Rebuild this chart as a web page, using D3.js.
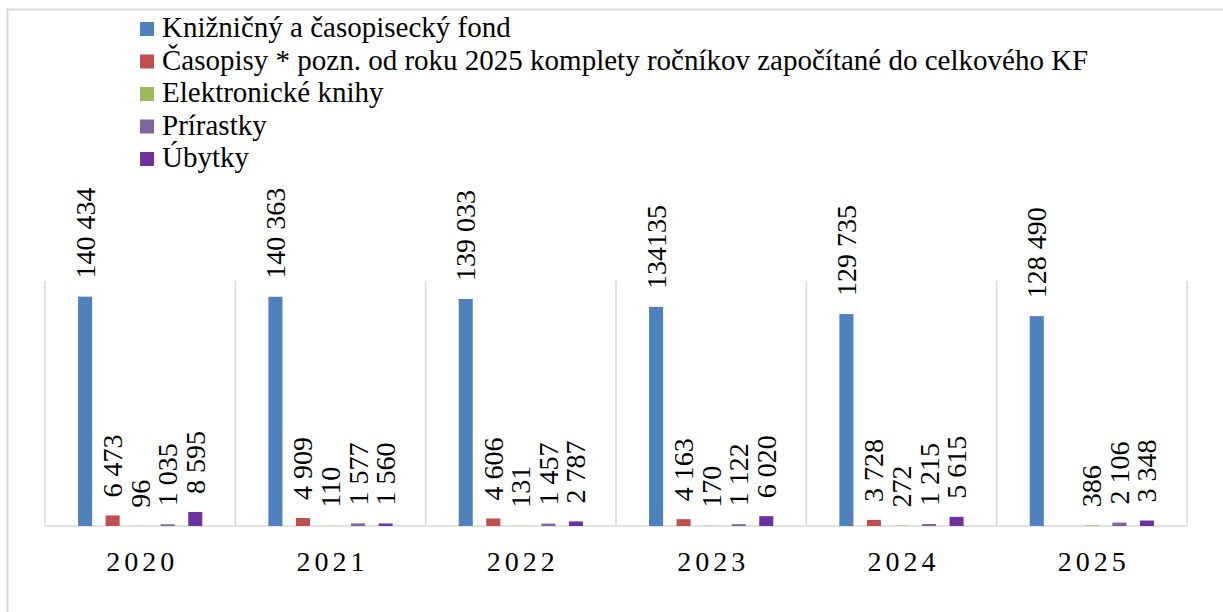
<!DOCTYPE html>
<html>
<head>
<meta charset="utf-8">
<script src="https://cdn.jsdelivr.net/npm/d3@7"></script>
<style>
	body { margin: 0; background: #fff; }
</style>
</head>
<body>
<div id="chart"></div>
<script>
const years = ['2020', '2021', '2022', '2023', '2024', '2025'];
const seriesNames = [
	'Knižničný a časopisecký fond',
	'Časopisy * pozn. od roku 2025 komplety ročníkov započítané do celkového KF',
	'Elektronické knihy',
	'Prírastky',
	'Úbytky'
];
const seriesColors = ['#4f81bd', '#c0504d', '#9bbb59', '#8064a2', '#7030a0'];
const fond = [140434, 140363, 139033, 134135, 129735, 128490];
const casopisy = [6473, 4909, 4606, 4163, 3728, null];
const ekniby = [96, 110, 131, 170, 272, 386];
const prirastky = [1035, 1577, 1457, 1122, 1215, 2106];
const ubytky = [8595, 1560, 2787, 6020, 5615, 3348];
// labels written differently in the source
const labelOverrides = {'0|2023': '134135'};

const width = 1223, height = 612;
const plot = {left: 45, right: 1187, top: 281, bottom: 526};
const fontSize = 28;
const fontFamily = '"Times New Roman", "Liberation Serif", Tinos, "DejaVu Serif", serif';

const allSeries = [fond, casopisy, ekniby, prirastky, ubytky];

const svg = d3.select('#chart')
	.append('svg')
	.attr('width', width)
	.attr('height', height)
	.attr('font-family', fontFamily);

svg.append('rect')
	.attr('width', width)
	.attr('height', height)
	.attr('fill', '#fff');

// chart frame
svg.append('rect')
	.attr('x', 7.5)
	.attr('y', 9.5)
	.attr('width', 1400)
	.attr('height', 800)
	.attr('fill', 'none')
	.attr('stroke', '#d9d9d9')
	.attr('stroke-width', 2);

const xScale = d3.scaleBand()
	.domain(years)
	.range([plot.left, plot.right]);

const xInner = d3.scaleBand()
	.domain(d3.range(seriesNames.length))
	.range([0, xScale.bandwidth()])
	.paddingInner(0.49)
	.paddingOuter(1.2);

const yScale = d3.scaleLinear()
	.domain([0, 150000])
	.range([plot.bottom, plot.top]);

// category separators
svg.append('g')
	.selectAll('line')
	.data(years.concat(['end']))
	.join('line')
	.attr('x1', (d, i) => i < years.length ? xScale(d) : plot.right)
	.attr('x2', (d, i) => i < years.length ? xScale(d) : plot.right)
	.attr('y1', plot.top)
	.attr('y2', plot.bottom)
	.attr('stroke', '#d9d9d9')
	.attr('stroke-width', 1.5);

svg.append('line')
	.attr('x1', plot.left)
	.attr('x2', plot.right)
	.attr('y1', plot.bottom)
	.attr('y2', plot.bottom)
	.attr('stroke', '#d9d9d9')
	.attr('stroke-width', 1.5);

const fmt = d3.formatLocale({thousands: ' ', grouping: [3], decimal: ',', currency: ['', '']}).format(',d');

const bars = [];
allSeries.forEach((values, s) => {
	values.forEach((v, i) => {
		if (v == null) return;
		bars.push({s, year: years[i], value: v});
	});
});

const groups = svg.append('g')
	.selectAll('.bar')
	.data(bars)
	.join('g')
	.attr('class', 'bar')
	.attr('transform', d => `translate(${xScale(d.year) + xInner(d.s)}, 0)`);

groups.append('rect')
	.attr('x', 0)
	.attr('y', d => yScale(d.value))
	.attr('width', xInner.bandwidth())
	.attr('height', d => plot.bottom - yScale(d.value))
	.attr('fill', d => seriesColors[d.s]);

groups.append('text')
	.attr('transform', d => `translate(${xInner.bandwidth() / 2 + 9.5}, ${yScale(d.value) - 18}) rotate(-90)`)
	.attr('font-size', fontSize)
	.text(d => labelOverrides[d.s + '|' + d.year] || fmt(d.value));

// category labels
svg.append('g')
	.selectAll('text')
	.data(years)
	.join('text')
	.attr('x', d => xScale(d) + xScale.bandwidth() / 2 + 2)
	.attr('y', 571)
	.attr('text-anchor', 'middle')
	.attr('font-size', fontSize)
	.attr('letter-spacing', 4)
	.text(d => d);

// legend
const legend = svg.append('g')
	.selectAll('g')
	.data(seriesNames)
	.join('g')
	.attr('transform', (d, i) => `translate(140, ${22 + i * 32.5})`);

legend.append('rect')
	.attr('width', 14)
	.attr('height', 14)
	.attr('fill', (d, i) => seriesColors[i]);

legend.append('text')
	.attr('x', 22)
	.attr('y', 15)
	.attr('font-size', 29)
	.text(d => d);
</script>
</body>
</html>
